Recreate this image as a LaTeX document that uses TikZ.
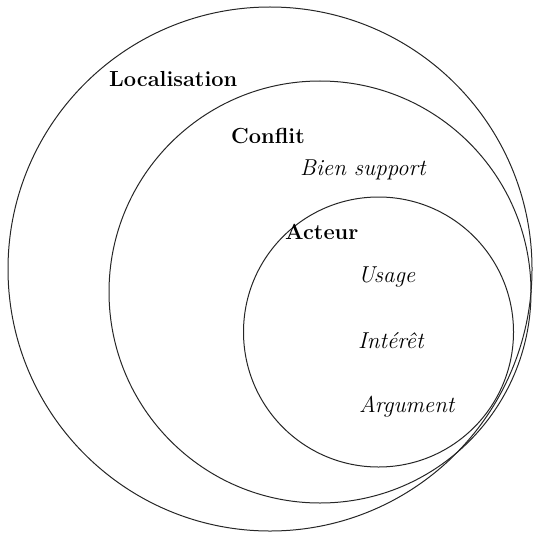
\documentclass[tikz,border=0pt]{standalone}
\begin{document}
\begin{tikzpicture}[x=1pt,y=-1pt,
  ring/.style={circle,draw=black!85,line width=1pt,inner sep=0pt},
  head/.style={anchor=base west,inner sep=0pt,font=\fontsize{21.8}{26}\selectfont\bfseries},
  item/.style={anchor=base west,inner sep=0pt,font=\fontsize{23}{28}\selectfont\itshape}]
\useasboundingbox (0,0) rectangle (534,532);
\node[ring,minimum size=524pt] (loc) at (270,269) {};
\node[ring,minimum size=422pt] (con) at (320,292) {};
\node[ring,minimum size=270pt] (act) at (378.5,332) {};
\node[head] (tloc) at (109,87) {Localisation};
\node[head] (tcon) at (231,143) {Conflit};
\node[item] (tbien) at (300,175) {Bien support};
\node[head] (tact) at (285,239) {Acteur};
\node[item] (tusage) at (358,282) {Usage};
\node[item] (tint) at (358,348) {Intérêt};
\node[item] (targ) at (359,412) {Argument};
\end{tikzpicture}
\end{document}
